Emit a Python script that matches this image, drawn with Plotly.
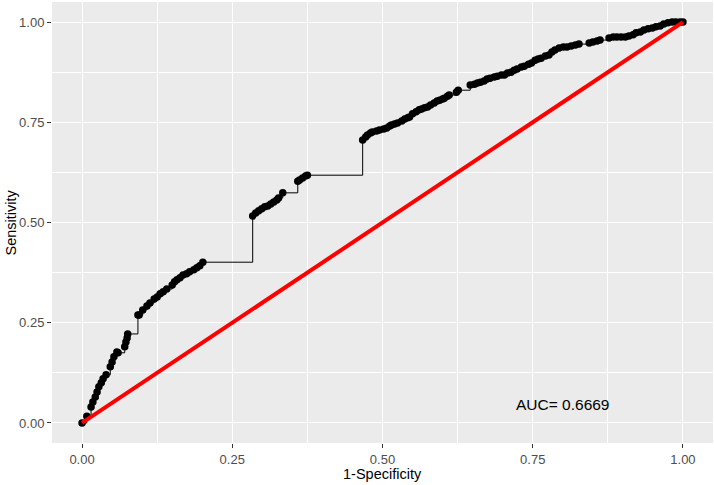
import plotly.graph_objects as go

# ROC curve points
fpr = [0.000, 0.008, 0.015, 0.018, 0.022, 0.025, 0.028, 0.032, 0.035, 0.040,
       0.047, 0.050, 0.053, 0.058, 0.060, 0.071, 0.073, 0.075, 0.076,
       0.093, 0.095, 0.101, 0.108, 0.113, 0.120, 0.125, 0.130, 0.135, 0.141,
       0.150, 0.154, 0.158, 0.163, 0.168, 0.174, 0.179, 0.186, 0.191, 0.196, 0.201,
       0.284, 0.289, 0.294, 0.299, 0.304, 0.309, 0.314, 0.319, 0.324, 0.327, 0.334,
       0.359, 0.362, 0.367, 0.372, 0.375,
       0.467, 0.472, 0.475, 0.480, 0.483, 0.490, 0.495, 0.502, 0.507, 0.512,
       0.515, 0.520, 0.525, 0.532, 0.537, 0.542, 0.545, 0.550, 0.556, 0.561,
       0.565, 0.570, 0.575, 0.580, 0.586, 0.591, 0.595, 0.600, 0.603, 0.608,
       0.611, 0.623, 0.626,
       0.646, 0.653, 0.658, 0.663, 0.669, 0.674, 0.679, 0.686, 0.691, 0.698,
       0.703, 0.708, 0.714, 0.719, 0.724, 0.731, 0.736, 0.743, 0.748,
       0.754, 0.759, 0.764, 0.771, 0.777, 0.782, 0.787, 0.794, 0.801, 0.807,
       0.814, 0.821, 0.827, 0.844, 0.850, 0.857, 0.862, 0.877, 0.884, 0.890,
       0.897, 0.904, 0.910, 0.917, 0.922, 0.929, 0.935, 0.942, 0.949, 0.955,
       0.962, 0.968, 0.975, 0.982, 0.988, 0.995, 1.000]
tpr = [0.000, 0.017, 0.040, 0.052, 0.065, 0.077, 0.090, 0.100, 0.110, 0.120,
       0.140, 0.152, 0.165, 0.177, 0.175, 0.190, 0.202, 0.212, 0.222,
       0.269, 0.269, 0.282, 0.292, 0.299, 0.309, 0.314, 0.322, 0.327, 0.334,
       0.344, 0.352, 0.357, 0.362, 0.369, 0.372, 0.377, 0.382, 0.387, 0.392, 0.401,
       0.516, 0.524, 0.529, 0.534, 0.539, 0.541, 0.546, 0.551, 0.556, 0.561, 0.574,
       0.603, 0.606, 0.611, 0.616, 0.618,
       0.706, 0.713, 0.718, 0.723, 0.726, 0.728, 0.731, 0.733, 0.736, 0.741,
       0.743, 0.746, 0.748, 0.753, 0.758, 0.761, 0.763, 0.771, 0.776, 0.781,
       0.783, 0.786, 0.788, 0.793, 0.798, 0.803, 0.805, 0.808, 0.810, 0.815,
       0.818, 0.825, 0.830,
       0.843, 0.845, 0.848, 0.850, 0.853, 0.858, 0.860, 0.863, 0.865, 0.868,
       0.868, 0.873, 0.875, 0.880, 0.883, 0.888, 0.890, 0.895, 0.898,
       0.905, 0.908, 0.910, 0.915, 0.918, 0.925, 0.930, 0.935, 0.938, 0.938,
       0.940, 0.943, 0.945, 0.948, 0.950, 0.953, 0.955, 0.960, 0.963, 0.963,
       0.963, 0.963, 0.965, 0.968, 0.973, 0.975, 0.980, 0.983, 0.985, 0.988,
       0.990, 0.995, 0.998, 1.000, 1.000, 1.000, 1.000]

diag_x = [0, 1]
diag_y = [0, 1]

tick_vals = [0.00, 0.25, 0.50, 0.75, 1.00]
tick_text = ["0.00", "0.25", "0.50", "0.75", "1.00"]

auc_label = "AUC= 0.6669"
auc_pos = (0.80, 0.045)

FONT = "Liberation Sans, Arial"

fig = go.Figure()
fig.add_trace(go.Scatter(
    x=fpr, y=tpr, mode="lines+markers",
    line=dict(color="black", width=1, shape="hv"),
    marker=dict(color="black", size=7.5),
    showlegend=False, hoverinfo="skip"))
fig.add_trace(go.Scatter(
    x=diag_x, y=diag_y, mode="lines",
    line=dict(color="#FF0000", width=4),
    showlegend=False, hoverinfo="skip"))

fig.add_annotation(x=auc_pos[0], y=auc_pos[1], text=auc_label, showarrow=False,
                   font=dict(family=FONT, size=15.5, color="black"),
                   xanchor="center", yanchor="middle")

# axis titles as paper-positioned annotations
fig.add_annotation(x=0.5, y=0, xref="paper", yref="paper", yshift=-31,
                   text="1-Specificity", showarrow=False,
                   font=dict(family=FONT, size=14.5, color="black"),
                   xanchor="center", yanchor="middle")
fig.add_annotation(x=0, y=0.5, xref="paper", yref="paper", xshift=-42,
                   text="Sensitivity", showarrow=False, textangle=-90,
                   font=dict(family=FONT, size=14.5, color="black"),
                   xanchor="center", yanchor="middle")

axis_common = dict(
    tickvals=tick_vals, ticktext=tick_text, automargin=False,
    range=[-0.05, 1.05], showgrid=True, gridcolor="white", gridwidth=1.3,
    zeroline=False, showline=False,
    ticks="outside", ticklen=4, tickwidth=1, tickcolor="#333333",
    tickfont=dict(family=FONT, size=13, color="#4D4D4D"),
    minor=dict(dtick=0.125, tick0=0, showgrid=True, gridcolor="white", gridwidth=0.6, ticks=""),
)

fig.update_layout(
    width=714, height=485,
    margin=dict(l=52, r=1, t=2, b=42, autoexpand=False),
    paper_bgcolor="white", plot_bgcolor="#EBEBEB",
    font=dict(family=FONT, color="black"),
    xaxis=dict(axis_common),
    yaxis=dict(axis_common),
)

fig.write_html("out.html", config={"displayModeBar": False},
               post_script="document.body.style.margin='0';document.body.style.overflow='hidden';")
